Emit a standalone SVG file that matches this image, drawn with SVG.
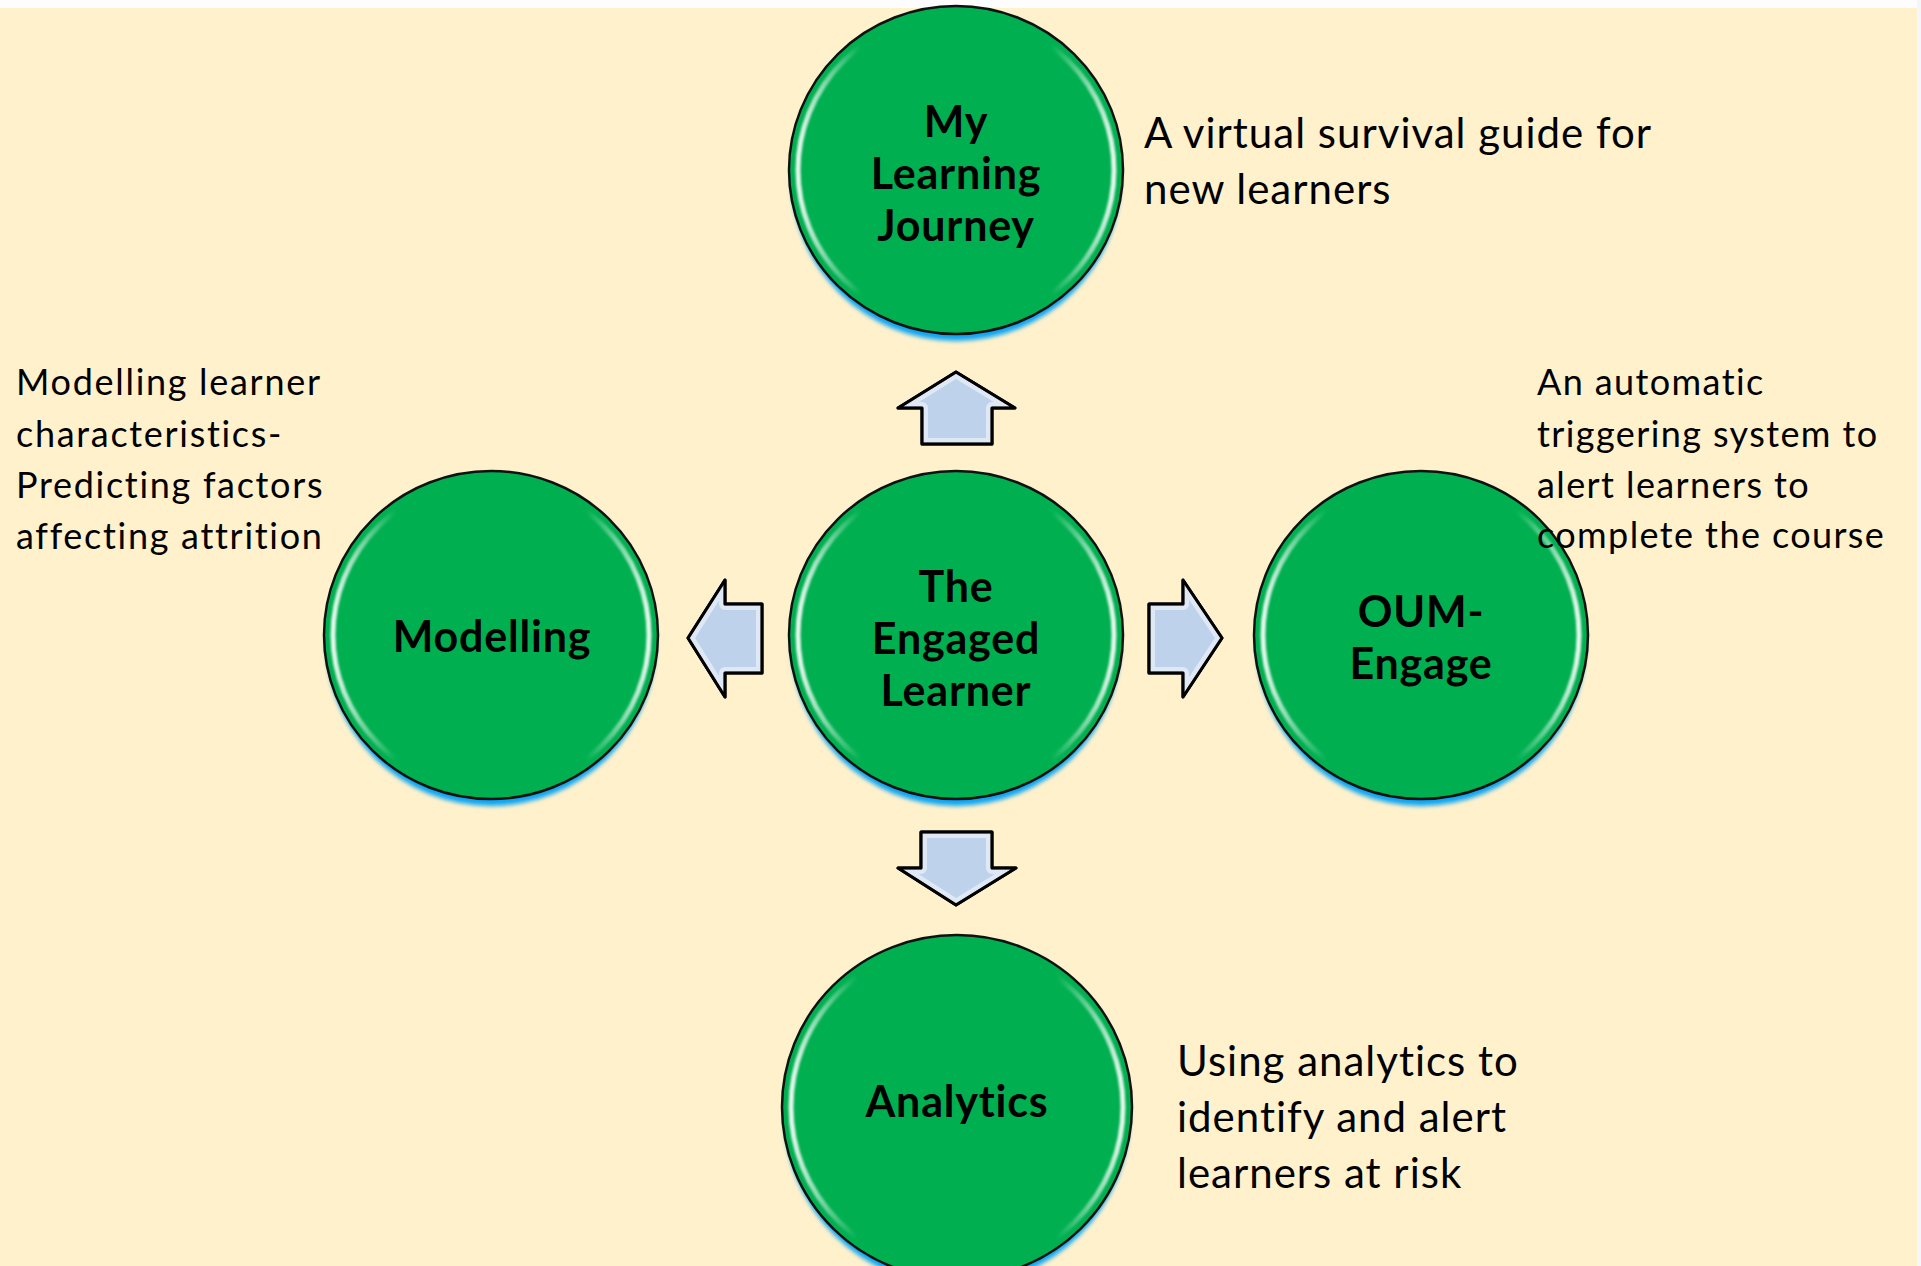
<svg xmlns="http://www.w3.org/2000/svg" xmlns:xlink="http://www.w3.org/1999/xlink" width="1921" height="1266" viewBox="0 0 1921 1266">
<style>
text{font-variant-ligatures:none;font-family:Lato,"Open Sans","Liberation Sans",sans-serif;fill:#000}
.lbl{font-weight:bold;font-size:43px;letter-spacing:0.8px;text-anchor:middle}
.desc{font-size:36px;letter-spacing:1.4px}
.descW{letter-spacing:1.7px}
.descL{font-size:42px;letter-spacing:1px}
.disk{fill:#00B050;stroke:#111;stroke-width:2.5}
.glow{fill:#0AA6F2;filter:url(#blur)}
.ring{fill:none;stroke:url(#hl);stroke-width:5;filter:url(#soft)}
.arr{fill:#BFD2EC;stroke:#000;stroke-width:3;stroke-linejoin:round}
.bev{fill:none;stroke:#fff;stroke-opacity:0.5;stroke-width:12;stroke-linejoin:round}
.edge{fill:none;stroke:#000;stroke-width:3;stroke-linejoin:round}
</style>
<defs>
<filter id="blur" x="-20%" y="-20%" width="140%" height="140%"><feGaussianBlur stdDeviation="2"/></filter>
<filter id="soft" x="-10%" y="-10%" width="120%" height="120%"><feGaussianBlur stdDeviation="1"/></filter>
<linearGradient id="hl" x1="0" y1="0" x2="1" y2="0">
<stop offset="0" stop-color="#fff" stop-opacity="0.9"/>
<stop offset="0.2" stop-color="#fff" stop-opacity="0"/>
<stop offset="0.8" stop-color="#fff" stop-opacity="0"/>
<stop offset="1" stop-color="#fff" stop-opacity="0.9"/>
</linearGradient>
<polygon id="pUp" points="956,372 1015,408 992,408 992,444 922,444 922,408 898,408"/>
<polygon id="pDown" points="921,832 992,832 992,868 1016,868 956,905 898,868 921,868"/>
<polygon id="pLeft" points="688,638 725,580 725,604 762,604 762,673 725,673 725,697"/>
<polygon id="pRight" points="1149,604 1183,604 1183,580 1222,638 1183,697 1183,673 1149,673"/>
<clipPath id="cUp"><use xlink:href="#pUp"/></clipPath>
<clipPath id="cDown"><use xlink:href="#pDown"/></clipPath>
<clipPath id="cLeft"><use xlink:href="#pLeft"/></clipPath>
<clipPath id="cRight"><use xlink:href="#pRight"/></clipPath>
</defs>
<rect x="0" y="0" width="1921" height="1266" fill="#FFF1CC"/>
<rect x="0" y="0" width="1921" height="8" fill="#FDFDFE"/>
<rect x="1917" y="0" width="4" height="1266" fill="#F4F6FA"/>

<g id="connectors">
<use xlink:href="#pUp" class="arr"/><use xlink:href="#pUp" class="bev" clip-path="url(#cUp)"/><use xlink:href="#pUp" class="edge"/>
<use xlink:href="#pDown" class="arr"/><use xlink:href="#pDown" class="bev" clip-path="url(#cDown)"/><use xlink:href="#pDown" class="edge"/>
<use xlink:href="#pLeft" class="arr"/><use xlink:href="#pLeft" class="bev" clip-path="url(#cLeft)"/><use xlink:href="#pLeft" class="edge"/>
<use xlink:href="#pRight" class="arr"/><use xlink:href="#pRight" class="bev" clip-path="url(#cRight)"/><use xlink:href="#pRight" class="edge"/>
</g>

<g id="node-journey">
<ellipse class="glow" cx="956" cy="177" rx="165" ry="164"/>
<ellipse class="disk" cx="956" cy="170" rx="167" ry="164"/>
<ellipse class="ring" cx="956" cy="170" rx="158" ry="155"/>
<text class="lbl" x="956" y="137">My</text>
<text class="lbl" x="956" y="189">Learning</text>
<text class="lbl" x="956" y="241">Journey</text>
</g>

<g id="node-engaged">
<ellipse class="glow" cx="956" cy="642" rx="165" ry="164"/>
<ellipse class="disk" cx="956" cy="635" rx="167" ry="164"/>
<ellipse class="ring" cx="956" cy="635" rx="158" ry="155"/>
<text class="lbl" x="956" y="602">The</text>
<text class="lbl" x="956" y="654">Engaged</text>
<text class="lbl" x="956" y="706">Learner</text>
</g>

<g id="node-modelling">
<ellipse class="glow" cx="491" cy="642" rx="165" ry="164"/>
<ellipse class="disk" cx="491" cy="635" rx="167" ry="164"/>
<ellipse class="ring" cx="491" cy="635" rx="158" ry="155"/>
<text class="lbl" x="492" y="652">Modelling</text>
</g>

<g id="node-oum">
<ellipse class="glow" cx="1421" cy="642" rx="165" ry="164"/>
<ellipse class="disk" cx="1421" cy="635" rx="167" ry="164"/>
<ellipse class="ring" cx="1421" cy="635" rx="158" ry="155"/>
<text class="lbl" x="1421" y="627">OUM-</text>
<text class="lbl" x="1421" y="679">Engage</text>
</g>

<g id="node-analytics">
<ellipse class="glow" cx="957" cy="1114" rx="173" ry="172"/>
<ellipse class="disk" cx="957" cy="1107" rx="175" ry="172"/>
<ellipse class="ring" cx="957" cy="1107" rx="166" ry="163"/>
<text class="lbl" x="957" y="1117">Analytics</text>
</g>

<g id="desc-journey">
<text class="descL" x="1144" y="148">A virtual survival guide for</text>
<text class="descL" x="1144" y="204">new learners</text>
</g>
<g id="desc-modelling">
<text class="desc descW" x="16" y="395">Modelling learner</text>
<text class="desc descW" x="16" y="447">characteristics-</text>
<text class="desc descW" x="16" y="498">Predicting factors</text>
<text class="desc descW" x="16" y="549">affecting attrition</text>
</g>
<g id="desc-oum">
<text class="desc" x="1537" y="395">An automatic</text>
<text class="desc" x="1537" y="447">triggering system to</text>
<text class="desc" x="1537" y="498">alert learners to</text>
<text class="desc" x="1537" y="548">complete the course</text>
</g>
<g id="desc-analytics">
<text class="descL" x="1177" y="1076">Using analytics to</text>
<text class="descL" x="1177" y="1132">identify and alert</text>
<text class="descL" x="1177" y="1188">learners at risk</text>
</g>
</svg>
